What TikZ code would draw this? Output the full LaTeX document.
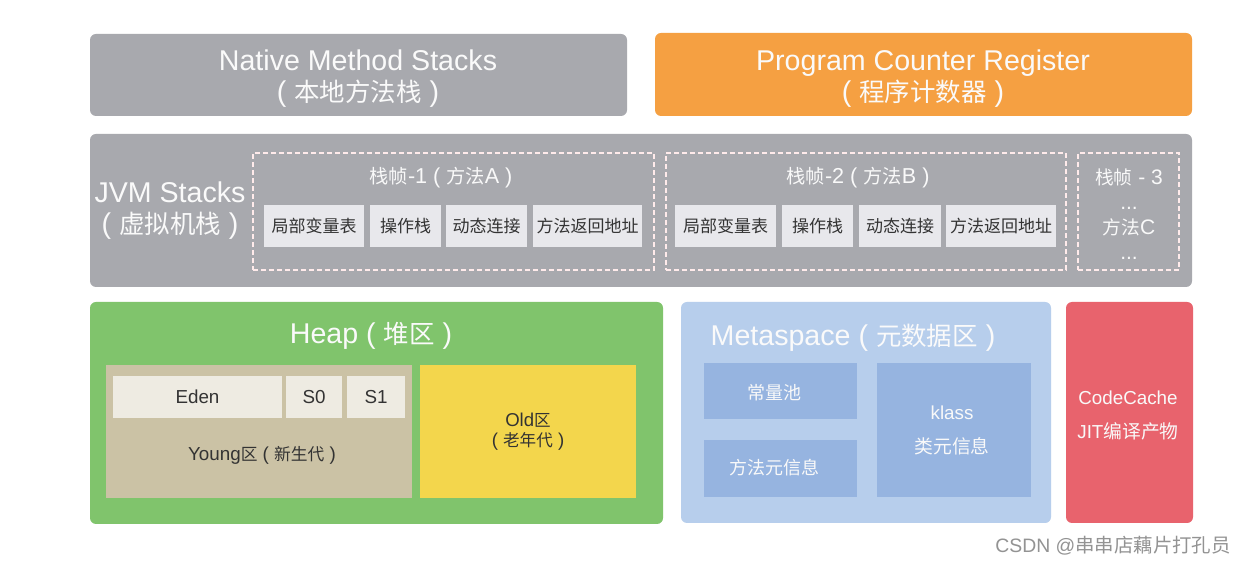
\documentclass[tikz,border=0pt]{standalone}
\usepackage{fontspec}
\setmainfont{Liberation Sans}
\newfontfamily\cjk{Noto Sans CJK SC}
\newfontfamily\cjks[Scale=0.89]{Noto Sans CJK SC}
\newcommand\zh[1]{{\cjk #1}}
\newcommand\zhs[1]{{\cjks #1}}

\definecolor{stackgray}{HTML}{A8A9AE}
\definecolor{pcorange}{HTML}{F5A042}
\definecolor{heapgreen}{HTML}{80C46C}
\definecolor{youngtan}{HTML}{CBC2A5}
\definecolor{edenwhite}{HTML}{EEEBE2}
\definecolor{oldyellow}{HTML}{F3D64C}
\definecolor{metablue}{HTML}{B7CEEC}
\definecolor{metainner}{HTML}{96B4E0}
\definecolor{cachered}{HTML}{E8636D}
\definecolor{cellgray}{HTML}{E8E8EC}
\definecolor{inktext}{HTML}{333333}

\tikzset{
  region/.style={rounded corners=3pt, inner sep=0pt, outer sep=0pt, anchor=north west},
  cellbox/.style={fill=cellgray, inner sep=0pt, outer sep=0pt, anchor=north west},
  framebox/.style={draw=white!92!red, dash pattern=on 2.4pt off 1.6pt, line width=0.7pt,
    inner sep=0pt, outer sep=0pt, anchor=north west},
  bigtext/.style={text=white!96!gray, align=center, font=\fontsize{14.3}{15.5}\selectfont},
  frametext/.style={text=white!95!gray, align=center, font=\fontsize{10.8}{12.5}\selectfont},
  celltext/.style={text=inktext, font=\fontsize{8.5}{10}\selectfont\cjk},
  smalltext/.style={align=center, font=\fontsize{9.4}{17}\selectfont},
}

\begin{document}
\begin{tikzpicture}[x=0.5pt, y=-0.5pt]
  \useasboundingbox[fill=white] (0,0) rectangle (1246,565);

  % top row
  \node[region, fill=stackgray, minimum width=268.5pt, minimum height=41pt] (native) at (90,34) {};
  \node[bigtext] (nativeT) at (358,79) {Native Method Stacks\\( \zhs{本地方法栈} )};
  \node[region, fill=pcorange, minimum width=268.5pt, minimum height=41.5pt] (pcr) at (655,33) {};
  \node[bigtext] (pcrT) at (923,79) {Program Counter Register\\( \zhs{程序计数器} )};

  % jvm stacks
  \node[region, fill=stackgray, minimum width=551pt, minimum height=76.5pt] (jvm) at (90,134) {};
  \node[bigtext] (jvmT) at (170,211) {JVM Stacks\\( \zhs{虚拟机栈} )};
  \node[framebox, minimum width=200.5pt, minimum height=58.5pt] (frameA) at (253,153) {};
  \node[framebox, minimum width=200pt, minimum height=58.5pt] (frameB) at (666,153) {};
  \node[framebox, minimum width=50.5pt, minimum height=58.5pt] (frameC) at (1078,153) {};
  \node[frametext] (frameAT) at (441,178) {\zhs{栈帧}-1 ( \zhs{方法}A )};
  \node[frametext] (frameBT) at (858,178) {\zhs{栈帧}-2 ( \zhs{方法}B )};
  \node[frametext, font=\fontsize{10.5}{12.5}\selectfont] (frameCT) at (1129,214) {\zhs{栈帧} - 3\\...\\\zhs{方法}C\\...};

  \node[cellbox, minimum width=50pt, minimum height=21pt] (localsA) at (264,205) {};
  \node[cellbox, minimum width=35.5pt, minimum height=21pt] (opA) at (370,205) {};
  \node[cellbox, minimum width=40.5pt, minimum height=21pt] (linkA) at (446,205) {};
  \node[cellbox, minimum width=54.5pt, minimum height=21pt] (retA) at (533,205) {};
  \node[celltext] at (localsA.center) {局部变量表};
  \node[celltext] at (opA.center) {操作栈};
  \node[celltext] at (linkA.center) {动态连接};
  \node[celltext] at (retA.center) {方法返回地址};

  \node[cellbox, minimum width=50.5pt, minimum height=21pt] (localsB) at (675,205) {};
  \node[cellbox, minimum width=35.5pt, minimum height=21pt] (opB) at (782,205) {};
  \node[cellbox, minimum width=41pt, minimum height=21pt] (linkB) at (859,205) {};
  \node[cellbox, minimum width=55pt, minimum height=21pt] (retB) at (946,205) {};
  \node[celltext] at (localsB.center) {局部变量表};
  \node[celltext] at (opB.center) {操作栈};
  \node[celltext] at (linkB.center) {动态连接};
  \node[celltext] at (retB.center) {方法返回地址};

  % heap
  \node[region, fill=heapgreen, minimum width=286.5pt, minimum height=111pt] (heap) at (90,302) {};
  \node[bigtext] (heapT) at (371,336) {Heap ( \zhs{堆区} )};
  \node[region, rounded corners=0pt, fill=youngtan, minimum width=153pt, minimum height=66.5pt] (young) at (106,365) {};
  \node[cellbox, fill=edenwhite, minimum width=84.5pt, minimum height=21pt] (eden) at (113,376) {};
  \node[cellbox, fill=edenwhite, minimum width=28pt, minimum height=21pt] (s0) at (286,376) {};
  \node[cellbox, fill=edenwhite, minimum width=29pt, minimum height=21pt] (s1) at (347,376) {};
  \node[smalltext, text=inktext] at (eden.center) {Eden};
  \node[smalltext, text=inktext] at (s0.center) {S0};
  \node[smalltext, text=inktext] at (s1.center) {S1};
  \node[smalltext, text=inktext] (youngT) at (262,455) {Young\zhs{区} ( \zhs{新生代} )};
  \node[region, rounded corners=0pt, fill=oldyellow, minimum width=108pt, minimum height=66.5pt] (old) at (420,365) {};
  \node[smalltext, text=inktext, font=\fontsize{9.3}{10.2}\selectfont] (oldT) at (old.center) {Old\zhs{区}\\( \zhs{老年代} )};

  % metaspace
  \node[region, fill=metablue, minimum width=185pt, minimum height=110.5pt] (meta) at (681,302) {};
  \node[bigtext] (metaT) at (853,338) {Metaspace ( \zhs{元数据区} )};
  \node[cellbox, fill=metainner, minimum width=76.5pt, minimum height=28pt] (pool) at (704,363) {};
  \node[cellbox, fill=metainner, minimum width=76.5pt, minimum height=28.5pt] (minfo) at (704,440) {};
  \node[cellbox, fill=metainner, minimum width=77pt, minimum height=67pt] (klass) at (877,363) {};
  \node[smalltext, text=white!95!gray, font=\fontsize{9}{10}\selectfont\cjk] (poolT) at (774,393) {常量池};
  \node[smalltext, text=white!95!gray, font=\fontsize{9}{10}\selectfont\cjk] (minfoT) at (774,468) {方法元信息};
  \node[smalltext, text=white!95!gray] (klassT) at (952,430) {klass\\\zh{类元信息}};

  % code cache
  \node[region, fill=cachered, minimum width=63.5pt, minimum height=110.5pt] (code) at (1066,302) {};
  \node[smalltext, text=white!95!gray] (codeT) at (1128,416) {CodeCache\\JIT\zh{编译产物}};

  \node[anchor=east, inner sep=0pt, text=gray!85, font=\fontsize{9.7}{12}\selectfont] (mark) at (1231,546) {CSDN @\zh{串串店藕片打孔员}};
\end{tikzpicture}
\end{document}
